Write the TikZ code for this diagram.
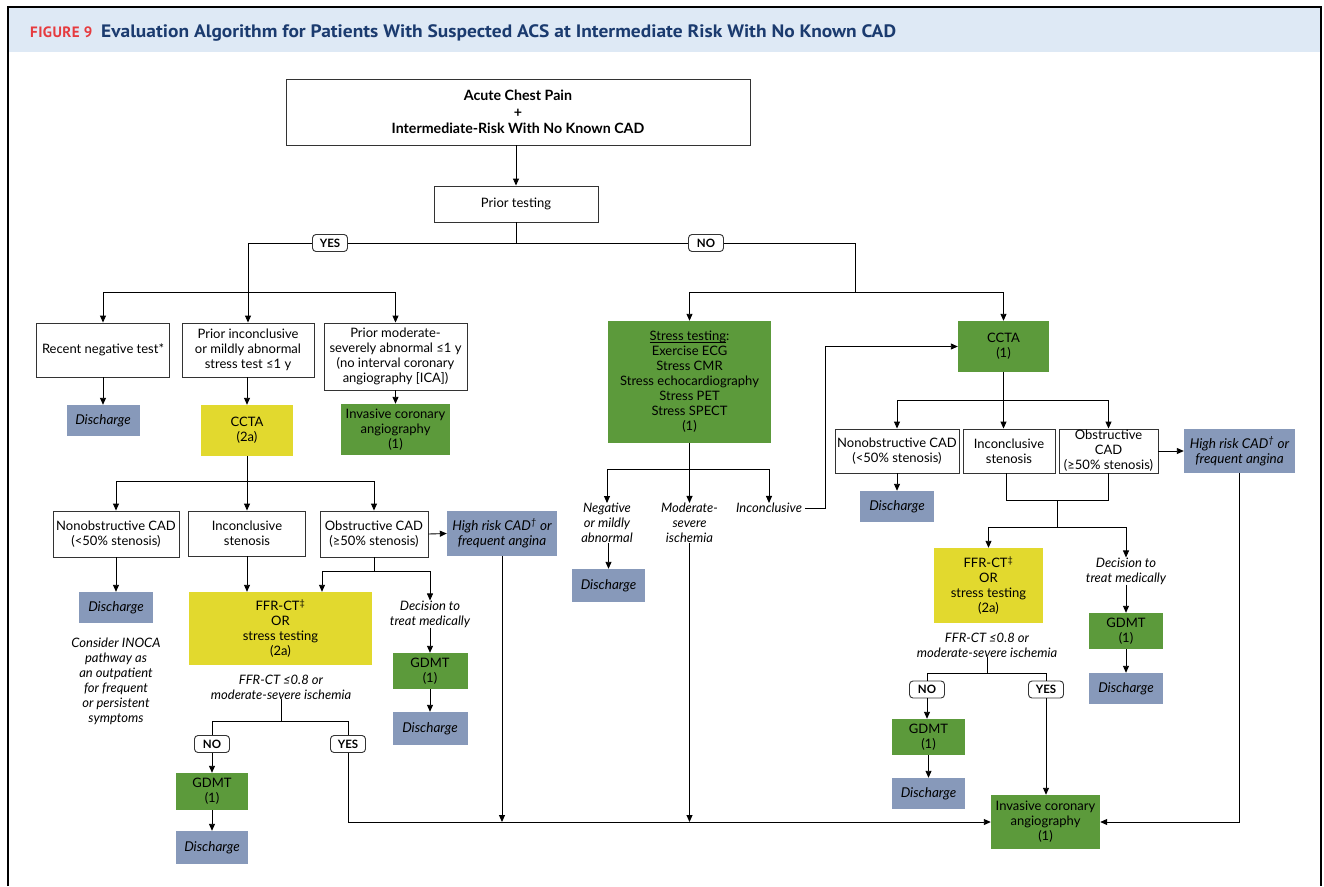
\documentclass[tikz,border=0pt]{standalone}
\usepackage{fontspec}
\setmainfont{Lato}
\newfontfamily\titlefont{PT Sans}
\usetikzlibrary{arrows.meta}
\definecolor{hdr}{HTML}{DEE9F5}
\definecolor{navy}{HTML}{1B3B6F}
\definecolor{figred}{HTML}{E63B3F}
\definecolor{dis}{HTML}{8799BA}
\definecolor{ylw}{HTML}{E2D92E}
\definecolor{grn}{HTML}{5C9A3B}
\definecolor{edge}{HTML}{333333}
\newcommand\myul[1]{\setbox0\hbox{#1}\rlap{\rule[-2.2pt]{\wd0}{0.6pt}}\box0}
\tikzset{
  base/.style={inner sep=0pt, align=center, font=\fontsize{13}{15}\selectfont, text=black},
  wbox/.style={base, draw=edge, line width=0.9pt, fill=white},
  dbox/.style={base, fill=dis, font=\fontsize{13.5}{15}\selectfont\itshape},
  ybox/.style={base, fill=ylw},
  gbox/.style={base, fill=grn},
  lbl/.style={base, font=\fontsize{11.5}{12}\selectfont\bfseries, draw=edge, rounded corners=3.5pt, fill=white, line width=0.9pt, minimum width=35pt, minimum height=17pt},
  itx/.style={base, font=\fontsize{13}{15}\selectfont\itshape},
  arr/.style={-{Triangle[length=7pt,width=6pt]}, line width=0.9pt},
  ln/.style={line width=0.9pt}
}
\begin{document}
\begin{tikzpicture}[x=1pt,y=-1pt]
\useasboundingbox (0,0) rectangle (1324,886);
% header and frame
\fill[hdr] (9,7.5) rectangle (1320,52);
\draw[line width=2pt] (8,886) -- (8,6.5) -- (1321,6.5) -- (1321,886);
\node[anchor=base west, inner sep=0pt, font=\titlefont\bfseries\fontsize{15}{18}\selectfont\addfontfeature{LetterSpace=3}, text=figred] (fig) at (30,37) {FIGURE 9};
\node[anchor=base west, inner sep=0pt, font=\titlefont\bfseries\fontsize{18}{20}\selectfont\addfontfeature{FakeStretch=1.08}, text=navy] (title) at (101,37) {Evaluation Algorithm for Patients With Suspected ACS at Intermediate Risk With No Known CAD};

% top
\node[wbox, font=\fontsize{14.2}{16.5}\selectfont\bfseries, minimum width=464pt, minimum height=66pt] (top) at (518,112) {Acute Chest Pain\\+\\Intermediate-Risk With No Known CAD};
\node[wbox, minimum width=164pt, minimum height=36pt] (prior) at (516,204) {Prior testing};
\draw[arr] (top.south -| prior.north) -- (prior.north);
\coordinate (c0) at (516,243);
\coordinate (cy) at (248,243);
\coordinate (cn) at (855,243);
\coordinate (cyd) at (248,292);
\coordinate (cnd) at (855,292);
\draw[ln] (prior.south) -- (c0);
\draw[ln] (cy) -- (cn);
\draw[ln] (cy) -- (cyd);
\draw[ln] (cn) -- (cnd);
\node[lbl] (yes0) at (330,243) {YES};
\node[lbl] (no0) at (706,243) {NO};

% left column (YES)
\node[wbox, minimum width=133pt, minimum height=54pt] (recent) at (103,350) {Recent negative test*};
\node[wbox, minimum width=132pt, minimum height=54pt] (pinc) at (248,350) {Prior inconclusive\\or mildly abnormal\\stress test ≤1 y};
\node[wbox, minimum width=143pt, minimum height=67pt] (pmod) at (395.5,356.5) {Prior moderate-\\severely abnormal ≤1 y\\(no interval coronary\\angiography [ICA])};
\draw[ln] (recent.north |- cyd) -- (pmod.north |- cyd);
\draw[arr] (recent.north |- cyd) -- (recent.north);
\draw[arr] (cyd) -- (pinc.north);
\draw[arr] (pmod.north |- cyd) -- (pmod.north);

\node[dbox, minimum width=73pt, minimum height=31pt] (dis1) at (103,420.5) {Discharge};
\node[ybox, minimum width=92pt, minimum height=51pt] (ccta2a) at (247,430.5) {CCTA\\(2a)};
\node[gbox, minimum width=109pt, minimum height=51pt] (ica1) at (395.5,429.5) {Invasive coronary\\angiography\\(1)};
\draw[arr] (recent.south) -- (dis1.north);
\draw[arr] (pinc.south -| ccta2a.north) -- (ccta2a.north);
\draw[arr] (pmod.south) -- (ica1.north);

% CCTA (2a) results
\node[wbox, minimum width=126pt, minimum height=46pt] (nonob1) at (116,534) {Nonobstructive CAD\\(<50\% stenosis)};
\node[wbox, minimum width=117pt, minimum height=45pt] (incst1) at (247,533.5) {Inconclusive\\stenosis};
\node[wbox, minimum width=108pt, minimum height=46pt] (obst1) at (374,534) {Obstructive CAD\\(≥50\% stenosis)};
\node[dbox, minimum width=110pt, minimum height=45pt] (hr1) at (502,533.5) {High risk CAD\textsuperscript{†} or\\frequent angina};
\coordinate (b1) at (247,481);
\draw[ln] (ccta2a.south) -- (b1);
\draw[ln] (nonob1.north |- b1) -- (obst1.north |- b1);
\draw[arr] (nonob1.north |- b1) -- (nonob1.north);
\draw[arr] (b1) -- (incst1.north);
\draw[arr] (obst1.north |- b1) -- (obst1.north);
\draw[arr] (obst1.east) -- (hr1.west);

\node[dbox, minimum width=74pt, minimum height=31pt] (dis2) at (116,607.5) {Discharge};
\draw[arr] (nonob1.south) -- (dis2.north);
\node[itx] (inoca) at (116,681) {Consider INOCA\\pathway as\\an outpatient\\for frequent\\or persistent\\symptoms};

\node[ybox, minimum width=183pt, minimum height=73pt] (ffr1) at (280.5,628.5) {FFR-CT\textsuperscript{‡}\\OR\\stress testing\\(2a)};
\coordinate (b2) at (374,571);
\coordinate (b2l) at (322,571);
\coordinate (b2r) at (430,571);
\draw[arr] (incst1.south) -- (incst1.south |- ffr1.north);
\draw[ln] (obst1.south) -- (b2);
\draw[ln] (b2l) -- (b2r);
\draw[arr] (b2l) -- (b2l |- ffr1.north);
\node[itx] (dec1) at (430,614) {Decision to\\treat medically};
\draw[arr] (b2r) -- (dec1.north);
\node[gbox, minimum width=75pt, minimum height=36pt] (gdmt1) at (430,671) {GDMT\\(1)};
\node[dbox, minimum width=75pt, minimum height=33pt] (dis3) at (430,728.5) {Discharge};
\draw[arr] (dec1.south) -- (gdmt1.north);
\draw[arr] (gdmt1.south) -- (dis3.north);

\node[itx] (ffrt1) at (281,687) {FFR-CT ≤0.8 or\\moderate-severe ischemia};
\coordinate (b3) at (281,721);
\coordinate (b3l) at (212,721);
\coordinate (b3r) at (348,721);
\draw[ln] (ffrt1.south) -- (b3);
\draw[ln] (b3l) -- (b3r);
\node[lbl] (no1) at (212,744) {NO};
\node[lbl] (yes1) at (348,744) {YES};
\draw[ln] (b3l) -- (no1.north);
\draw[ln] (b3r) -- (yes1.north);
\node[gbox, minimum width=72pt, minimum height=37pt] (gdmt2) at (212,791.5) {GDMT\\(1)};
\node[dbox, minimum width=72pt, minimum height=33pt] (dis4) at (212,847.5) {Discharge};
\draw[arr] (no1.south) -- (gdmt2.north);
\draw[arr] (gdmt2.south) -- (dis4.north);

% middle column (NO)
\node[gbox, minimum width=163pt, minimum height=122pt] (stress) at (689.5,382) {\myul{Stress testing}:\\Exercise ECG\\Stress CMR\\Stress echocardiography\\Stress PET\\Stress SPECT\\(1)};
\coordinate (cs) at (689.5,292);
\draw[ln] (cs) -- (cnd);
\draw[arr] (cs) -- (stress.north);
\coordinate (b4) at (689.5,469);
\coordinate (b4l) at (607,469);
\coordinate (b4r) at (769,469);
\draw[ln] (stress.south) -- (b4);
\draw[ln] (b4l) -- (b4r);
\node[itx] (neg) at (607,523) {Negative\\or mildly\\abnormal};
\node[itx] (mod) at (689.5,523) {Moderate-\\severe\\ischemia};
\node[itx] (incl) at (769,508) {Inconclusive};
\draw[arr] (b4l) -- (b4l |- neg.north);
\draw[arr] (b4) -- (b4 |- mod.north);
\draw[arr] (b4r) -- (b4r |- incl.north);
\node[dbox, minimum width=73pt, minimum height=33pt] (dis5) at (608.5,585.5) {Discharge};
\draw[arr] (neg.south -| dis5.north) -- (dis5.north);

% right column (CCTA 1)
\node[gbox, minimum width=91pt, minimum height=51pt] (ccta1) at (1003.5,346.5) {CCTA\\(1)};
\draw[ln] (cnd) -- (ccta1.north |- cnd);
\draw[arr] (ccta1.north |- cnd) -- (ccta1.north);
\coordinate (ic1) at (825,508);
\coordinate (ic2) at (825,346.5);
\draw[arr] ([xshift=3pt]incl.east) -- (ic1) -- (ic2) -- (ccta1.west);

\node[wbox, minimum width=124pt, minimum height=44pt] (nonob2) at (897,451) {Nonobstructive CAD\\(<50\% stenosis)};
\node[wbox, minimum width=92pt, minimum height=44pt] (incst2) at (1009,451) {Inconclusive\\stenosis};
\node[wbox, minimum width=99pt, minimum height=44pt] (obst2) at (1108.5,451) {Obstructive\\CAD\\(≥50\% stenosis)};
\node[dbox, minimum width=111pt, minimum height=44pt] (hr2) at (1239.5,451) {High risk CAD\textsuperscript{†} or\\frequent angina};
\coordinate (b5) at (1003.5,400);
\draw[ln] (ccta1.south) -- (b5);
\draw[ln] (nonob2.north |- b5) -- (obst2.north |- b5);
\draw[arr] (nonob2.north |- b5) -- (nonob2.north);
\draw[arr] (b5) -- (b5 |- incst2.north);
\draw[arr] (obst2.north |- b5) -- (obst2.north);
\draw[arr] (obst2.east) -- (hr2.west);
\node[dbox, minimum width=74pt, minimum height=31pt] (dis6) at (897,506.5) {Discharge};
\draw[arr] (nonob2.south) -- (dis6.north);

\coordinate (m1) at (1006,500);
\coordinate (m2) at (1108.5,500);
\coordinate (m3) at (1057,500);
\coordinate (m4) at (1057,527);
\coordinate (m4l) at (988.5,527);
\coordinate (m4r) at (1126,527);
\draw[ln] (m1 |- incst2.south) -- (m1) -- (m2) -- (obst2.south);
\draw[ln] (m3) -- (m4);
\draw[ln] (m4l) -- (m4r);
\node[ybox, minimum width=109pt, minimum height=75pt] (ffr2) at (988.5,585.5) {FFR-CT\textsuperscript{‡}\\OR\\stress testing\\(2a)};
\draw[arr] (m4l) -- (ffr2.north);
\node[itx] (dec2) at (1126,571) {Decision to\\treat medically};
\draw[arr] (m4r) -- (dec2.north);
\node[gbox, minimum width=74pt, minimum height=36pt] (gdmt3) at (1126,631) {GDMT\\(1)};
\node[dbox, minimum width=74pt, minimum height=31pt] (dis7) at (1126,688.5) {Discharge};
\draw[arr] (dec2.south) -- (gdmt3.north);
\draw[arr] (gdmt3.south) -- (dis7.north);

\node[itx] (ffrt2) at (987,645) {FFR-CT ≤0.8 or\\moderate-severe ischemia};
\coordinate (m5) at (987,673);
\coordinate (m5l) at (927,673);
\coordinate (m5r) at (1046,673);
\draw[ln] (ffrt2.south) -- (m5);
\draw[ln] (m5l) -- (m5r);
\node[lbl] (no2) at (927,689.5) {NO};
\node[lbl] (yes2) at (1046,689.5) {YES};
\draw[ln] (m5l) -- (no2.north);
\draw[ln] (m5r) -- (yes2.north);
\node[gbox, minimum width=73pt, minimum height=36pt] (gdmt4) at (928.5,737) {GDMT\\(1)};
\node[dbox, minimum width=73pt, minimum height=31pt] (dis8) at (928.5,793.5) {Discharge};
\draw[arr] (no2.south) -- (no2.south |- gdmt4.north);
\draw[arr] (gdmt4.south) -- (dis8.north);

\node[gbox, minimum width=109pt, minimum height=54pt] (ica3) at (1045.5,822) {Invasive coronary\\angiography\\(1)};
\draw[arr] (yes2.south) -- (yes2.south |- ica3.north);

% converging lines to ICA
\coordinate (y1) at (348,822);
\draw[arr] (yes1.south) -- (y1) -- (ica3.west);
\draw[arr] (hr1.south) -- (hr1.south |- y1);
\draw[arr] (mod.south) -- (mod.south |- y1);
\coordinate (h2) at (1239.5,822);
\draw[arr] (hr2.south) -- (h2) -- (ica3.east);
\end{tikzpicture}
\end{document}
